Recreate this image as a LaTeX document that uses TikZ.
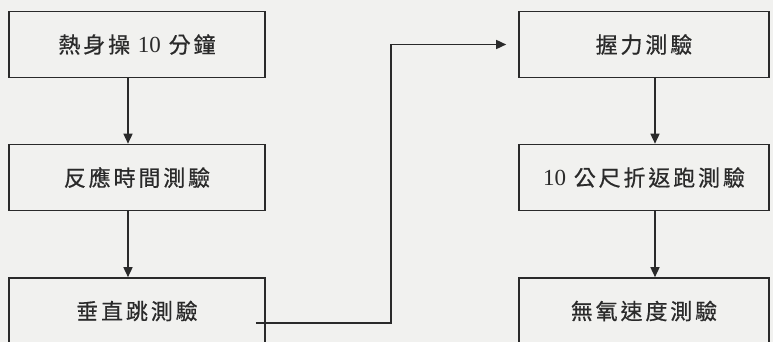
\documentclass[tikz,border=0pt]{standalone}
\usepackage{fontspec}
\setmainfont{Liberation Serif}
\newfontfamily\cjk[LetterSpace=13,FakeBold=0.6]{Noto Sans CJK TC}
\newcommand{\numtxt}[1]{{\rmfamily\fontsize{23}{25}\selectfont #1}}
\usetikzlibrary{arrows.meta}
\definecolor{bgc}{HTML}{F1F1EF}
\definecolor{inkc}{HTML}{2A2A2A}
\tikzset{
  stepbox/.style={draw=inkc, line width=1.6pt, fill=none, minimum height=66pt, inner sep=0pt,
    text=inkc, font=\cjk\fontsize{22}{26}\selectfont},
  leftbox/.style={stepbox, minimum width=256pt},
  rightbox/.style={stepbox, minimum width=250pt},
  flow/.style={draw=inkc, line width=1.5pt, -{Triangle[length=10pt,width=9pt]}}
}
\begin{document}
\begin{tikzpicture}[x=1pt,y=-1pt]
\clip (0,0) rectangle (773,342);
\fill[bgc] (0,0) rectangle (773,342);
\node[leftbox] (b1) at (137,44.5) {熱身操 \numtxt{10} 分鐘};
\node[leftbox] (b2) at (137,177.5) {反應時間測驗};
\node[leftbox] (b3) at (137,311) {垂直跳測驗};
\node[rightbox] (r1) at (644,44.5) {握力測驗};
\node[rightbox] (r2) at (644,177.5) {\numtxt{10} 公尺折返跑測驗};
\node[rightbox] (r3) at (644,311) {無氧速度測驗};
\draw[flow] ([xshift=-9pt]b1.south) -- ([xshift=-9pt]b2.north);
\draw[flow] ([xshift=-9pt]b2.south) -- ([xshift=-9pt]b3.north);
\draw[flow] ([xshift=11pt]r1.south) -- ([xshift=11pt]r2.north);
\draw[flow] ([xshift=11pt]r2.south) -- ([xshift=11pt]r3.north);
\coordinate (turn) at (391,323);
\draw[flow, shorten >=12pt] ([xshift=-10pt,yshift=-12pt]b3.east) -- (turn) |- (r1.west);
\end{tikzpicture}
\end{document}
